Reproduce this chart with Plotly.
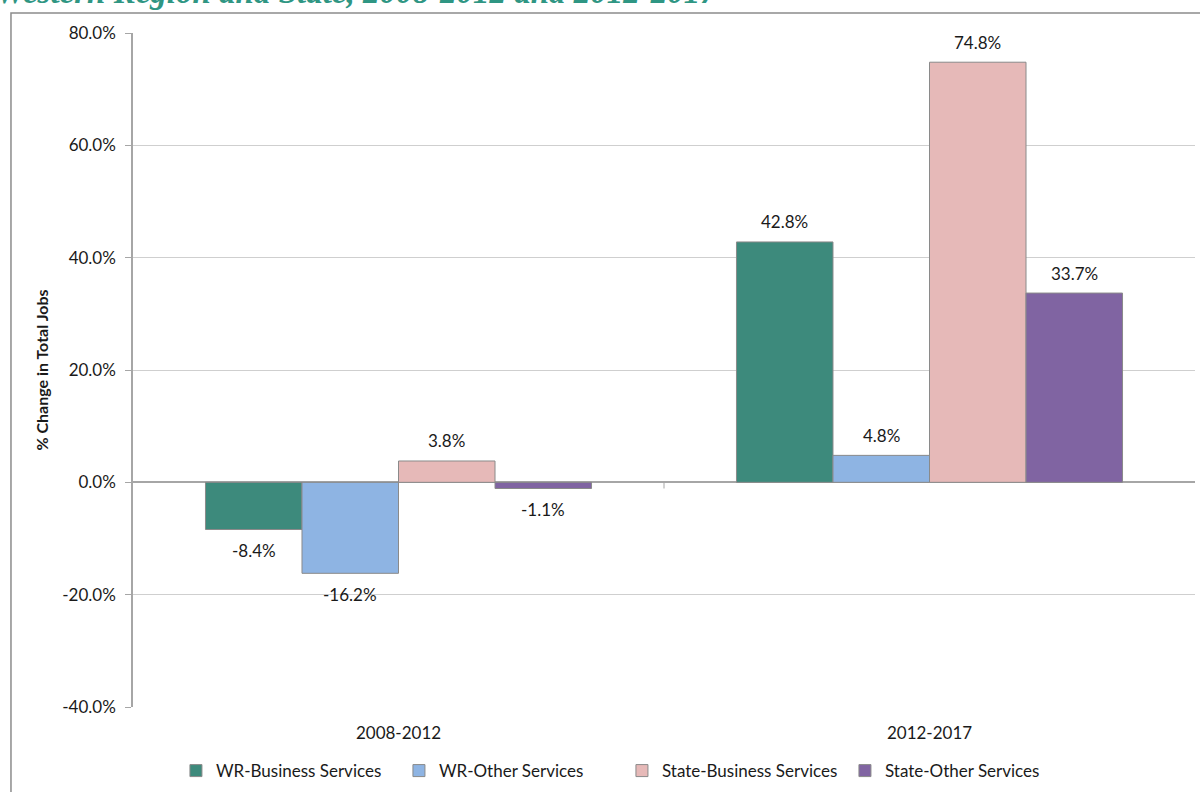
import plotly.graph_objects as go

# Periods on the category axis
periods = ["2008-2012", "2012-2017"]

# Percent change in total jobs, by series
wr_business = [-8.4, 42.8]
wr_other = [-16.2, 4.8]
state_business = [3.8, 74.8]
state_other = [-1.1, 33.7]

series_names = ["WR-Business Services", "WR-Other Services",
                "State-Business Services", "State-Other Services"]
series_values = [wr_business, wr_other, state_business, state_other]
series_colors = ["#3D8A7C", "#8EB4E3", "#E6B9B8", "#8064A2"]

y_ticks = [-40, -20, 0, 20, 40, 60, 80]
y_tick_labels = [f"{v:.1f}%" for v in y_ticks]

title_text = "Western Region and State, 2008-2012 and 2012-2017"

BARGAP = 0.273
LABEL_FONT = dict(family="Lato, Open Sans, sans-serif", size=17, color="#1a1a1a")

fig = go.Figure()
for name, vals, color in zip(series_names, series_values, series_colors):
    fig.add_trace(go.Bar(
        x=periods, y=vals, name=name,
        marker=dict(color=color, line=dict(color="#8A8A8A", width=1)),
    ))

# Value labels placed just outside each bar end
n = len(series_values)
group_w = 1 - BARGAP
bar_w = group_w / n
annotations = []
for i, vals in enumerate(series_values):
    offset = -group_w / 2 + (i + 0.5) * bar_w
    for j, v in enumerate(vals):
        annotations.append(dict(
            x=j + offset, y=v, xref="x", yref="y",
            text=f"{v:.1f}%", showarrow=False,
            xanchor="center", yanchor="middle",
            yshift=20 if v >= 0 else -21,
            font=LABEL_FONT,
        ))

# Heading text running above the frame
annotations.append(dict(
    x=-0.131, y=1, xref="paper", yref="paper",
    xanchor="left", yanchor="bottom", yshift=21,
    text=f"<b><i>{title_text}</i></b>", showarrow=False,
    font=dict(family="Liberation Serif, serif", size=33, color="#2F9683"),
))

shapes = [
    # outer chart frame
    dict(type="rect", xref="paper", yref="paper",
         x0=-0.1149, x1=1.05, y0=-0.2, y1=1.0297,
         line=dict(color="#8C8C8C", width=1.5), fillcolor="rgba(0,0,0,0)",
         layer="below"),
    # category divider tick on the zero line
    dict(type="line", xref="x", yref="y",
         x0=0.5, x1=0.5, y0=0, y1=-1.1,
         line=dict(color="#A6A6A6", width=1)),
]

fig.update_layout(
    width=1200, height=792,
    margin=dict(l=133, r=5, t=33, b=85, autoexpand=False),
    paper_bgcolor="white", plot_bgcolor="white",
    barmode="group", bargap=BARGAP, bargroupgap=0,
    font=dict(family="Lato, Open Sans, sans-serif", size=17, color="#1a1a1a"),
    showlegend=True,
    legend=dict(
        orientation="h", x=0.4604, xanchor="center", y=-0.095, yanchor="middle",
        font=dict(family="Lato, sans-serif", size=17, color="#1a1a1a"),
        itemwidth=30, entrywidth=178, entrywidthmode="pixels",
        traceorder="normal",
    ),
    annotations=annotations,
    shapes=shapes,
    xaxis=dict(
        type="category", categoryorder="array", categoryarray=periods,
        showgrid=False, showline=False, ticks="",
        ticklabelstandoff=14,
        tickfont=dict(family="Lato, sans-serif", size=17, color="#1a1a1a"),
        fixedrange=True,
    ),
    yaxis=dict(
        range=[-40, 80], tickmode="array", tickvals=y_ticks, ticktext=y_tick_labels,
        showgrid=True, gridcolor="#CFCFCF", gridwidth=1,
        zeroline=True, zerolinecolor="#A6A6A6", zerolinewidth=1.5,
        showline=True, linecolor="#A6A6A6", linewidth=1.5,
        ticks="outside", ticklen=6, tickcolor="#A6A6A6",
        ticklabelstandoff=6,
        tickfont=dict(family="Lato, sans-serif", size=17, color="#1a1a1a"),
        title=dict(text="<b>% Change in Total Jobs</b>", standoff=10,
                   font=dict(family="Lato, sans-serif", size=16, color="#1a1a1a")),
        fixedrange=True,
    ),
)

fig.write_html("out.html")
